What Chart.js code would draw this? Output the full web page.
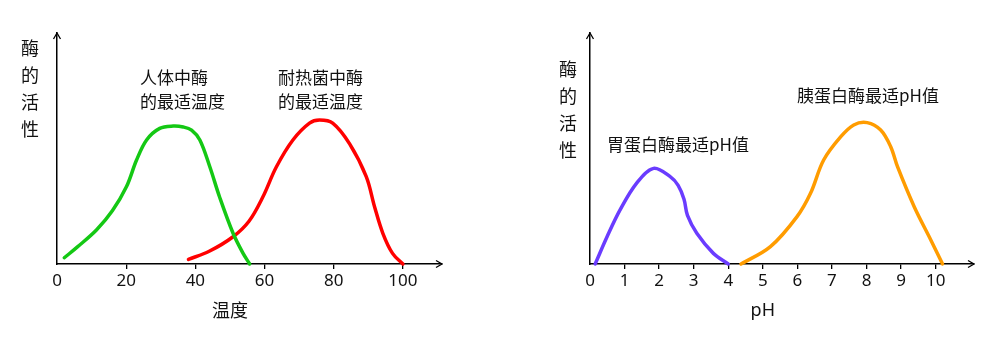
<!DOCTYPE html>
<html>
<head>
<meta charset="utf-8">
<script src="https://cdn.jsdelivr.net/npm/chart.js@4/dist/chart.umd.min.js"></script>
<style>
  html, body { margin: 0; padding: 0; background: #fff; }
  #wrap { position: relative; width: 1005px; height: 348px; }
  canvas { position: absolute; top: 0; }
  #tempChart { left: 0; }
  #phChart { left: 500px; }
</style>
</head>
<body>
<div id="wrap">
  <canvas id="tempChart" width="500" height="348"></canvas>
  <canvas id="phChart" width="505" height="348"></canvas>
</div>
<script>
// Temperature panel: enzyme activity vs temperature
const tempTicks = [0, 20, 40, 60, 80, 100];
const humanTemp = [2.1, 6, 11.4, 16, 20.1, 23, 25.9, 29.7, 33.6, 36.5, 38.9, 41.3, 44.2, 47, 50.9, 53.8, 55.7];
const humanAct  = [2.7, 7.5, 14.7, 23, 33.5, 45, 53.7, 58.7, 59.7, 59.3, 58, 53.7, 42, 29, 13.3, 4.6, 0];
const thermoTemp = [38, 44, 50.9, 55.5, 59.5, 63.4, 68.2, 73, 75.9, 79.7, 84.6, 89.4, 91.8, 94.2, 97, 100];
const thermoAct  = [2, 5.5, 11.8, 18.5, 29, 42, 53.7, 61, 62.3, 61, 52, 37.8, 24.8, 13.3, 4.6, 0];

// pH panel: enzyme activity vs pH
const phTicks = [0, 1, 2, 3, 4, 5, 6, 7, 8, 9, 10];
const pepsinPH  = [0.15, 0.5, 0.87, 1.35, 1.84, 2.32, 2.55, 2.72, 2.82, 3.09, 3.57, 4.0];
const pepsinAct = [0, 12, 23.4, 35, 41.4, 37.8, 34, 28, 21, 13.3, 4.6, 0];
const trypsinPH  = [4.37, 5.22, 5.99, 6.38, 6.76, 7.25, 7.63, 8.02, 8.41, 8.7, 8.9, 9.38, 9.86, 10.2];
const trypsinAct = [0, 7.5, 20.5, 30.6, 45, 55, 60.2, 61.2, 58, 50.8, 42, 24.8, 10.4, 0];

// Text
const yTitle = ['酶', '的', '活', '性'];
const tempTitle = '温度';
const phTitle = 'pH';
const humanLabel = ['人体中酶', '的最适温度'];
const thermoLabel = ['耐热菌中酶', '的最适温度'];
const pepsinLabel = '胃蛋白酶最适pH值';
const trypsinLabel = '胰蛋白酶最适pH值';

const CJK = "'Noto Sans CJK SC', 'Noto Sans', sans-serif";
const NUM = "'Noto Sans', 'Noto Sans CJK SC', sans-serif";
Chart.defaults.font.family = NUM;
Chart.defaults.color = '#111';

function toPoints(xs, ys) { return xs.map((x, i) => ({ x: x, y: ys[i] })); }

function curve(xs, ys, color) {
  return {
    data: toPoints(xs, ys),
    borderColor: color,
    borderWidth: 3.5,
    pointRadius: 0,
    fill: false,
    tension: 0.35,
    borderCapStyle: 'round',
    clip: false
  };
}

// Draws the axis arrows, stacked y title, x title and curve annotations
const decorations = {
  id: 'decorations',
  afterDraw(chart, args, opts) {
    const ctx = chart.ctx;
    const a = chart.chartArea;
    ctx.save();
    ctx.strokeStyle = '#000';
    ctx.lineWidth = 1.3;
    ctx.beginPath();
    ctx.moveTo(a.left - 3.5, a.top + 6);
    ctx.lineTo(a.left, a.top);
    ctx.lineTo(a.left + 3.5, a.top + 6);
    ctx.moveTo(a.right - 6, a.bottom - 3.5);
    ctx.lineTo(a.right, a.bottom);
    ctx.lineTo(a.right - 6, a.bottom + 3.5);
    ctx.stroke();

    ctx.fillStyle = '#111';
    ctx.textBaseline = 'middle';
    ctx.textAlign = 'center';
    ctx.font = '18px ' + CJK;
    opts.yTitle.text.forEach((ch, i) => {
      ctx.fillText(ch, opts.yTitle.x, opts.yTitle.y + i * 27);
    });
    const xs = chart.scales.x;
    ctx.font = '18px ' + (opts.xTitle.latin ? NUM : CJK);
    ctx.fillText(opts.xTitle.text, xs.getPixelForValue(opts.xTitle.at), opts.xTitle.y);

    ctx.textAlign = 'left';
    ctx.font = '17px ' + CJK;
    opts.notes.forEach(n => {
      [].concat(n.text).forEach((line, i) => {
        ctx.fillText(line, n.x, n.y + i * 24);
      });
    });
    ctx.restore();
  }
};

function makeChart(id, datasets, xMax, tickValues, padRight, yAxisWidth, deco) {
  return new Chart(document.getElementById(id), {
    type: 'line',
    data: { datasets: datasets },
    plugins: [decorations],
    options: {
      responsive: false,
      animation: false,
      devicePixelRatio: 1,
      layout: { padding: { top: 33, right: padRight, left: 0, bottom: 0 } },
      plugins: { legend: { display: false }, tooltip: { enabled: false }, decorations: deco },
      scales: {
        x: {
          type: 'linear',
          min: 0,
          max: xMax,
          afterBuildTicks: s => { s.ticks = tickValues.map(v => ({ value: v })); },
          afterFit: s => { s.height = 84; },
          grid: {
            drawOnChartArea: false,
            drawTicks: true,
            tickLength: 5,
            lineWidth: 1.3,
            color: c => (c.tick && c.tick.value === 0) ? 'rgba(0,0,0,0)' : '#000'
          },
          border: { display: true, color: '#000', width: 1.5 },
          ticks: { padding: 2, font: { size: 17 }, color: '#111', maxRotation: 0, autoSkip: false }
        },
        y: {
          type: 'linear',
          min: 0,
          max: 100,
          afterFit: s => { s.width = yAxisWidth; },
          grid: { display: false },
          border: { display: true, color: '#000', width: 1.5 },
          ticks: { display: false }
        }
      }
    }
  });
}

makeChart('tempChart', [
  curve(humanTemp, humanAct, '#14c814'),
  curve(thermoTemp, thermoAct, '#ff0000')
], 111.3, tempTicks, 58, 57, {
  yTitle: { text: yTitle, x: 30, y: 48 },
  xTitle: { text: tempTitle, at: 50, y: 310, latin: false },
  notes: [
    { text: humanLabel, x: 140, y: 78 },
    { text: thermoLabel, x: 278, y: 78 }
  ]
});

makeChart('phChart', [
  curve(pepsinPH, pepsinAct, '#6a3cff'),
  curve(trypsinPH, trypsinAct, '#ff9c00')
], 11.11, phTicks, 31, 90, {
  yTitle: { text: yTitle, x: 68, y: 69 },
  xTitle: { text: phTitle, at: 5, y: 311, latin: true },
  notes: [
    { text: pepsinLabel, x: 107, y: 145 },
    { text: trypsinLabel, x: 297, y: 96 }
  ]
});
</script>
</body>
</html>
